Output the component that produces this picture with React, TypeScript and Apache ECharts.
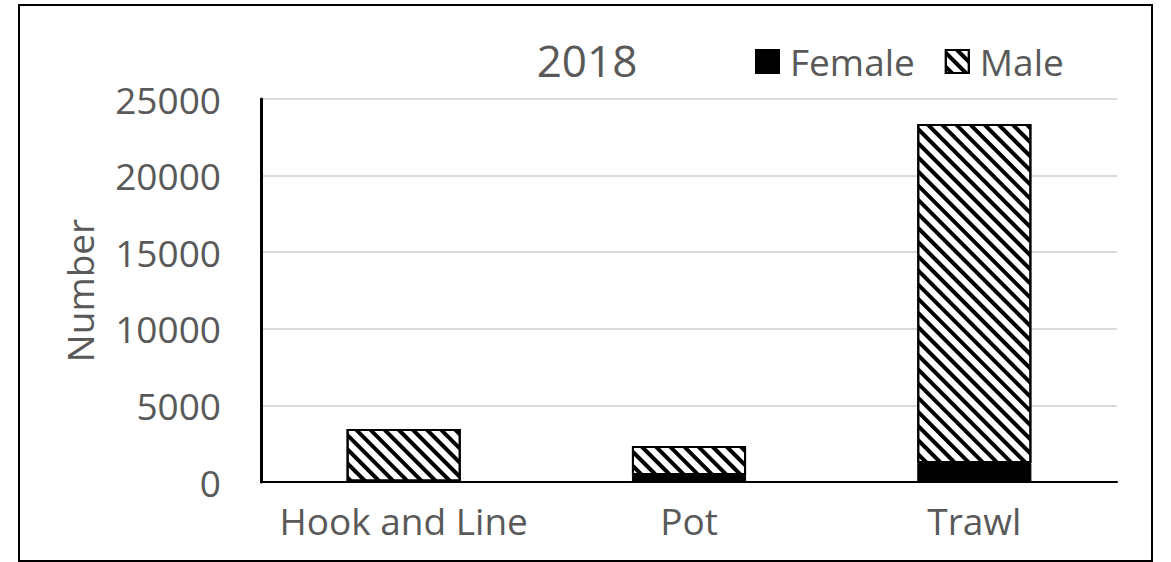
import React, { useEffect, useRef } from "react";
import * as echarts from "echarts";

const categories = ["Hook and Line", "Pot", "Trawl"];
const female = [30, 460, 1240];
const male = [3430, 1890, 22130];
const yTicks = { min: 0, max: 25000, interval: 5000 };
const title = "2018";

const FONT = "'Open Sans', 'Noto Sans', sans-serif";
const GRAY = "#595959";

export default function App() {
  const ref = useRef<HTMLDivElement>(null);
  useEffect(() => {
    const chart = echarts.init(ref.current!, null, { renderer: "svg" });
    chart.setOption({
      animation: false,
      backgroundColor: "#fff",
      title: {
        text: title,
        left: 582,
        top: 33,
        textAlign: "center",
        textStyle: { fontFamily: FONT, fontSize: 44, fontWeight: "normal", color: GRAY },
      },
      legend: {
        left: 750,
        top: 38,
        icon: "rect",
        itemWidth: 23,
        itemHeight: 23,
        itemGap: 30,
        textStyle: { fontFamily: FONT, fontSize: 37, color: GRAY, padding: [0, 0, 0, 6] },
        data: ["Female", "Male"],
      },
      graphic: [
        {
          type: "rect",
          shape: { x: 19, y: 5, width: 1133, height: 556 },
          style: { fill: "none", stroke: "#000", lineWidth: 2 },
          silent: true,
        },
      ],
      grid: { left: 261, right: 54, top: 99, bottom: 80 },
      xAxis: {
        type: "category",
        data: categories,
        axisLine: { show: true, lineStyle: { color: "#000", width: 2 } },
        axisTick: { show: false },
        axisLabel: { fontFamily: FONT, fontSize: 37, color: GRAY, margin: 20, interval: 0 },
      },
      yAxis: {
        type: "value",
        min: yTicks.min,
        max: yTicks.max,
        interval: yTicks.interval,
        name: "Number",
        nameLocation: "middle",
        nameRotate: 90,
        nameGap: 163,
        nameTextStyle: { fontFamily: FONT, fontSize: 37, color: GRAY },
        axisLine: { show: true, lineStyle: { color: "#000", width: 3 } },
        axisTick: { show: false },
        axisLabel: {
          fontFamily: FONT,
          fontSize: 37,
          color: GRAY,
          margin: 40,
          formatter: (v: number) => String(v),
        },
        splitLine: { lineStyle: { color: "#d9d9d9", width: 2 } },
      },
      series: [
        {
          name: "Female",
          type: "bar",
          stack: "s",
          data: female,
          barWidth: "40%",
          itemStyle: { color: "#000", borderColor: "#000", borderWidth: 1 },
        },
        {
          name: "Male",
          type: "bar",
          stack: "s",
          data: male,
          barWidth: "40%",
          itemStyle: {
            color: "#fff",
            borderColor: "#000",
            borderWidth: 2,
            decal: {
              symbol: "rect",
              symbolSize: 1,
              dashArrayX: [1, 0],
              dashArrayY: [4, 6],
              rotation: Math.PI / 4,
              color: "#000",
            },
          },
        },
      ],
    });
    return () => chart.dispose();
  }, []);
  return (
    <div
      ref={ref}
      style={{ position: "absolute", left: 0, top: 0, width: 1171, height: 562 }}
    />
  );
}
